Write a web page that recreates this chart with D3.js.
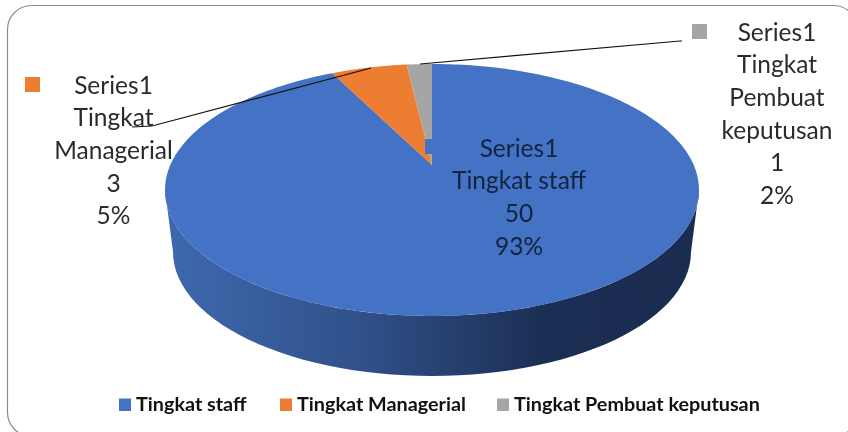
<!DOCTYPE html>
<meta charset="utf-8">
<style>
body { margin: 0; background: #fff; }
svg { display: block; filter: blur(0.35px); }
text { font-family: Lato, "Open Sans", sans-serif; fill: #2b2b2b; }
.label { font-size: 24.5px; text-anchor: middle; }
.label--inside { fill: #14233f; }
.legend { font-size: 19.8px; font-weight: 700; fill: #111; }
</style>
<body>
<svg width="848" height="432"></svg>
<script src="https://d3js.org/d3.v7.min.js"></script>
<script>
var categories = ["Tingkat staff", "Tingkat Managerial", "Tingkat Pembuat keputusan"];
var values = [50, 3, 1];
var percents = ["93%", "5%", "2%"];
var seriesName = "Series1";
var colors = ["#4472c4", "#ed7d31", "#a5a5a5"];

// wrapped lines of the category names, the way the labels break them
var labelLines = [
  ["Tingkat staff"],
  ["Tingkat", "Managerial"],
  ["Tingkat", "Pembuat", "keputusan"]
];

var svg = d3.select("svg");

svg.append("rect")
    .attr("x", 7.5).attr("y", 5.5)
    .attr("width", 850).attr("height", 431)
    .attr("rx", 24)
    .attr("fill", "#fff")
    .attr("stroke", "#8c8c8c")
    .attr("stroke-width", 1.2);

var cx = 432, cy = 190, rx = 267, ry = 126, depth = 60;
var apexY = 165;
var k = (apexY - cy) / ry;

// circle to ellipse under perspective, so the centre lands on the apex
function project(a) {
  var u = Math.sin(a), v = -Math.cos(a), w = 1 + k * v;
  return [cx + rx * u * Math.sqrt(1 - k * k) / w, cy + ry * (v + k) / w];
}

var pie = d3.pie().sort(null).startAngle(0).endAngle(2 * Math.PI);
var arcs = pie(values);
var line = d3.line();

var defs = svg.append("defs");
var wallGrad = defs.append("linearGradient")
    .attr("id", "wall")
    .attr("x1", 0).attr("x2", 1).attr("y1", 0).attr("y2", 0);
wallGrad.append("stop").attr("offset", "0").attr("stop-color", "#3f69ae");
wallGrad.append("stop").attr("offset", "0.35").attr("stop-color", "#31528c");
wallGrad.append("stop").attr("offset", "0.72").attr("stop-color", "#1b2e53");
wallGrad.append("stop").attr("offset", "1").attr("stop-color", "#1a2c50");

// side wall
var wallRx = 259, wallRy = 124, wallCy = cy + depth + ry - wallRy;
var wallPts = d3.range(0, 181, 3).map(function(t) {
  var a = t * Math.PI / 180;
  return [cx + wallRx * Math.cos(a), wallCy + wallRy * Math.sin(a)];
});
var wallTop = d3.range(180, -1, -3).map(function(t) {
  var a = t * Math.PI / 180;
  return [cx + rx * Math.cos(a), cy + ry * Math.sin(a)];
});
svg.append("path")
    .attr("d", line(wallPts.concat(wallTop)) + "Z")
    .attr("fill", "url(#wall)");

// top face
var apex = [cx, apexY];
svg.selectAll(".slice")
  .data(arcs)
  .enter().append("path")
    .attr("class", "slice")
    .attr("fill", function(d, i) { return colors[i]; })
    .attr("d", function(d) {
      var n = Math.ceil((d.endAngle - d.startAngle) / 0.02);
      var rim = d3.range(n + 1).map(function(j) {
        return project(d.startAngle + (d.endAngle - d.startAngle) * j / n);
      });
      return line([apex].concat(rim)) + "Z";
    });

// leader lines
var leaders = [
  [[132, 127], [152, 126], [371, 68]],
  [[420, 64], [680, 41], [682, 41]]
];
svg.selectAll(".leader")
  .data(leaders)
  .enter().append("path")
    .attr("class", "leader")
    .attr("fill", "none")
    .attr("stroke", "#111")
    .attr("stroke-width", 1.2)
    .attr("d", line);

// data labels, anchor is the first line's centre
var labelPos = [[519, 148], [113.5, 85], [777, 32]];
var keyPos = [[425, 139], [25, 77], [692, 24]];
var lineStep = 32.7;

svg.selectAll(".key")
  .data(categories)
  .enter().append("rect")
    .attr("class", "key")
    .attr("x", function(d, i) { return keyPos[i][0]; })
    .attr("y", function(d, i) { return keyPos[i][1]; })
    .attr("width", 15).attr("height", 15)
    .attr("fill", function(d, i) { return colors[i]; });

categories.forEach(function(c, i) {
  var rows = [seriesName].concat(labelLines[i], [values[i], percents[i]]);
  svg.append("g").selectAll("text")
    .data(rows)
    .enter().append("text")
      .attr("class", i === 0 ? "label label--inside" : "label")
      .attr("x", labelPos[i][0])
      .attr("y", function(d, j) { return labelPos[i][1] + j * lineStep; })
      .attr("dy", "0.35em")
      .text(function(d) { return d; });
});

// legend
var legendX = [119, 280, 497];
var legendY = 404.5;
var legend = svg.selectAll(".legend-item")
  .data(categories)
  .enter().append("g")
    .attr("class", "legend-item")
    .attr("transform", function(d, i) { return "translate(" + legendX[i] + "," + legendY + ")"; });
legend.append("rect")
    .attr("y", -6).attr("width", 12).attr("height", 12.5)
    .attr("fill", function(d, i) { return colors[i]; });
legend.append("text")
    .attr("class", "legend")
    .attr("x", 17)
    .attr("dy", "0.35em")
    .text(function(d) { return d; });
</script>
</body>
